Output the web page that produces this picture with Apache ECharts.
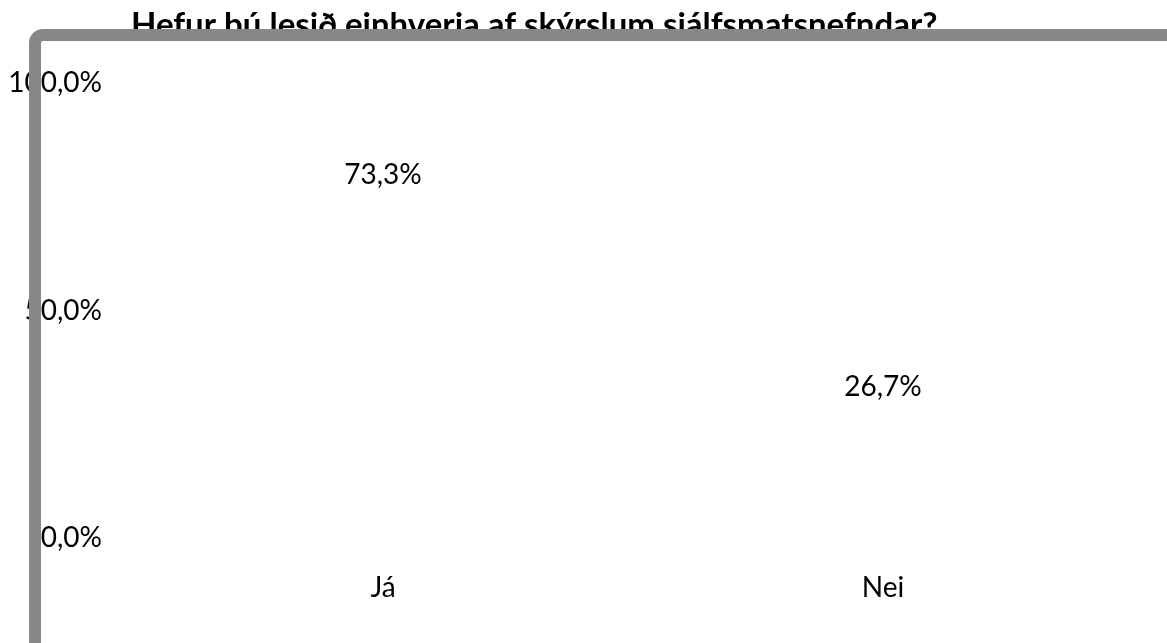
<!DOCTYPE html>
<html>
<head>
<meta charset="utf-8">
<style>
	html, body {
		margin: 0;
		padding: 0;
		background: #fff;
	}
	#chart {
		width: 1167px;
		height: 643px;
	}
</style>
<script src="https://cdn.jsdelivr.net/npm/echarts@6/dist/echarts.min.js"></script>
</head>
<body>
<div id="chart"></div>

<script type="text/javascript">
	// gögn
	var titleText = 'Hefur þú lesið einhverja af skýrslum sjálfsmatsnefndar?';
	var categories = ['Já', 'Nei'];
	var values = [73.3, 26.7];
	var yMin = 0, yMax = 100, yStep = 50;

	// 73.3 -> "73,3%"
	function pct(v) {
		return v.toFixed(1).replace('.', ',') + '%';
	}

	var font = 'Lato';

	var option = {
		animation: false,
		backgroundColor: '#fff',
		title: {
			text: titleText,
			left: 131,
			top: 9,
			padding: 0,
			textStyle: {
				fontFamily: font,
				fontSize: 33,
				fontWeight: 'bold',
				color: '#000',
				lineHeight: 33
			}
		},
		grid: {
			left: 133,
			right: 34,
			top: 83,
			bottom: 105
		},
		xAxis: {
			type: 'category',
			data: categories,
			axisLine: { show: false },
			axisTick: { show: false },
			axisLabel: {
				margin: 36,
				fontFamily: font,
				fontSize: 28,
				lineHeight: 28,
				color: '#000'
			}
		},
		yAxis: {
			type: 'value',
			min: yMin,
			max: yMax,
			interval: yStep,
			splitLine: { show: false },
			axisLine: { show: false },
			axisTick: { show: false },
			axisLabel: {
				margin: 31,
				fontFamily: font,
				fontSize: 28,
				color: '#000',
				formatter: function (v) { return pct(v); }
			}
		},
		series: [{
			type: 'bar',
			data: values,
			barWidth: '60%',
			itemStyle: { color: 'rgba(0,0,0,0)' },
			label: {
				show: true,
				position: 'top',
				distance: 16,
				fontFamily: font,
				fontSize: 28,
				lineHeight: 28,
				color: '#000',
				formatter: function (p) { return pct(p.value); }
			}
		}],
		// grár rammi yfir titli og ásmerkjum
		graphic: [{
			type: 'rect',
			z: 100,
			shape: { x: 35, y: 35, width: 1300, height: 800, r: 8 },
			style: { fill: 'none', stroke: '#878787', lineWidth: 12 }
		}]
	};

	var chart = echarts.init(document.getElementById('chart'));
	chart.setOption(option);
</script>
</body>
</html>
